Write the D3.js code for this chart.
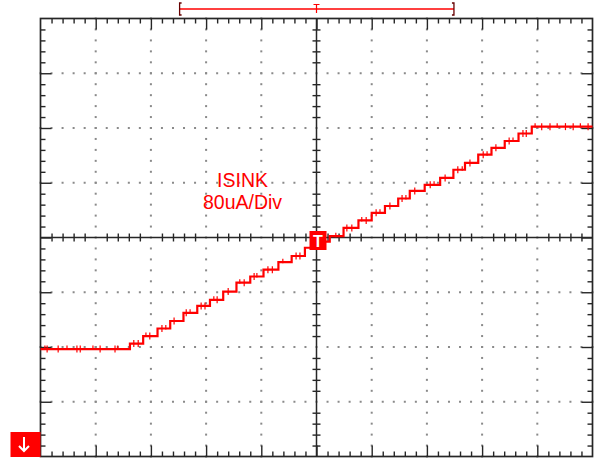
<!DOCTYPE html>
<html>
<head>
<meta charset="utf-8">
<script src="https://cdn.jsdelivr.net/npm/d3@7"></script>
<style>
  html, body { margin: 0; padding: 0; background: #fff; }
  svg { display: block; }
</style>
</head>
<body>
<svg id="scope" width="600" height="460"></svg>
<script>
// Staircase sink current captured on a 10 x 8 division graticule.
// Time is expressed in horizontal divisions, current in uA (80 uA/div).
const stepTimes = [1.62, 1.86, 2.12, 2.35, 2.59, 2.84, 3.07, 3.31, 3.55, 3.80,
                   4.04, 4.31, 4.55, 4.79, 5.03, 5.24, 5.49, 5.76, 6.00, 6.24,
                   6.48, 6.69, 6.96, 7.24, 7.48, 7.69, 7.93, 8.17, 8.41, 8.66, 8.90];
const stepLevels = [-163, -155, -144, -133, -122, -110, -100, -91, -79, -66,
                    -57, -47, -36, -27, -15, -6, 2, 14, 25, 36,
                    46, 57, 68, 77, 87, 99, 109, 121, 131, 141,
                    152, 162];
// Short glitches riding on the trace (time in divisions)
const glitchTimes = [0.08, 0.12, 0.32, 0.48, 0.66, 0.72, 0.95, 1.08, 1.35, 1.40,
                     1.69, 1.77, 1.91, 1.98, 2.20, 2.27, 2.42, 2.64, 2.71, 2.91,
                     2.98, 3.14, 3.20, 3.40, 3.61, 3.69, 3.87, 3.92, 4.12, 4.20,
                     4.39, 4.63, 4.70, 5.35, 5.55, 5.64, 5.82, 5.90, 6.08, 6.15,
                     6.33, 6.55, 6.62, 6.78, 7.06, 7.13, 7.33, 7.56, 7.64, 7.78,
                     8.02, 8.09, 8.25, 8.49, 8.56, 8.74, 8.80, 8.96, 9.08, 9.23,
                     9.36, 9.51, 9.65, 9.78, 9.92];
const channelLabel = ["ISINK", "80uA/Div"];
const xDivs = 10, yDivs = 8, uAPerDiv = 80, minorPerDiv = 5;

const svg = d3.select("#scope");
const gLeft = 40.5, gRight = 592.5, gTop = 18.5, gBottom = 456.5;
const x = d3.scaleLinear().domain([0, xDivs]).range([gLeft, gRight]);
const y = d3.scaleLinear().domain([-yDivs / 2 * uAPerDiv, yDivs / 2 * uAPerDiv]).range([gBottom, gTop]);

const ink = "#262626", dotColor = "#8a8a8a", red = "#ff0000";

// Dotted graticule on the major lines
const minorX = d3.range(0, xDivs * minorPerDiv + 1).map(i => i / minorPerDiv);
const minorY = d3.range(0, yDivs * minorPerDiv + 1).map(i => (i / minorPerDiv - yDivs / 2) * uAPerDiv);
const majorX = d3.range(1, xDivs).filter(v => v !== xDivs / 2);
const majorY = d3.range(1, yDivs).map(i => (i - yDivs / 2) * uAPerDiv).filter(v => v !== 0);

const dots = svg.append("g");
majorX.forEach(mx => {
  minorY.forEach(v => {
    dots.append("rect").attr("x", x(mx) - 1).attr("y", y(v) - 1).attr("width", 2).attr("height", 2).attr("fill", dotColor);
  });
});
majorY.forEach(my => {
  minorX.forEach(t => {
    dots.append("rect").attr("x", x(t) - 1).attr("y", y(my) - 1).attr("width", 2).attr("height", 2).attr("fill", dotColor);
  });
});

// Frame tick marks via d3 axes (ticks pointing inward)
function frameTicks(axisGen, transform, values, size) {
  const g = svg.append("g").attr("transform", transform)
    .call(axisGen.tickValues(values).tickSize(size).tickFormat(""));
  g.select(".domain").remove();
  g.selectAll("line").attr("stroke", ink).attr("stroke-width", 1.4);
}
const minorXOnly = minorX.filter(v => Math.abs(v - Math.round(v)) > 1e-6);
const minorYOnly = minorY.filter(v => Math.abs(v / uAPerDiv - Math.round(v / uAPerDiv)) > 1e-6);
const majXAll = d3.range(1, xDivs);
const majYAll = d3.range(1, yDivs).map(i => (i - yDivs / 2) * uAPerDiv);

frameTicks(d3.axisBottom(x), `translate(0,${gTop})`, minorXOnly, 5);
frameTicks(d3.axisBottom(x), `translate(0,${gTop})`, majXAll, 11);
frameTicks(d3.axisTop(x), `translate(0,${gBottom})`, minorXOnly, 5);
frameTicks(d3.axisTop(x), `translate(0,${gBottom})`, majXAll, 11);
frameTicks(d3.axisRight(y), `translate(${gLeft},0)`, minorYOnly, 5);
frameTicks(d3.axisRight(y), `translate(${gLeft},0)`, majYAll, 11);
frameTicks(d3.axisLeft(y), `translate(${gRight},0)`, minorYOnly, 5);
frameTicks(d3.axisLeft(y), `translate(${gRight},0)`, majYAll, 11);

// Centre axes with crossing tick marks
const cx = x(xDivs / 2), cy = y(0);
svg.append("line").attr("x1", gLeft).attr("x2", gRight).attr("y1", cy).attr("y2", cy).attr("stroke", ink).attr("stroke-width", 1.5);
svg.append("line").attr("x1", cx).attr("x2", cx).attr("y1", gTop).attr("y2", gBottom).attr("stroke", ink).attr("stroke-width", 1.5);
const cAxisX = svg.append("g").attr("transform", `translate(0,${cy - 4})`)
  .call(d3.axisBottom(x).tickValues(minorXOnly).tickSize(8).tickFormat(""));
cAxisX.select(".domain").remove();
cAxisX.selectAll("line").attr("stroke", ink).attr("stroke-width", 1.4);
const cAxisY = svg.append("g").attr("transform", `translate(${cx - 4},0)`)
  .call(d3.axisRight(y).tickValues(minorYOnly).tickSize(8).tickFormat(""));
cAxisY.select(".domain").remove();
cAxisY.selectAll("line").attr("stroke", ink).attr("stroke-width", 1.4);

// Outer frame
svg.append("rect").attr("x", gLeft).attr("y", gTop).attr("width", gRight - gLeft).attr("height", gBottom - gTop)
  .attr("fill", "none").attr("stroke", ink).attr("stroke-width", 1.7);

// Staircase trace
const pts = [[0, stepLevels[0]]];
stepTimes.forEach((t, i) => pts.push([t, stepLevels[i + 1]]));
pts.push([xDivs, stepLevels[stepLevels.length - 1]]);
const line = d3.line().x(d => x(d[0])).y(d => y(d[1])).curve(d3.curveStepAfter);
svg.append("path").datum(pts).attr("d", line).attr("fill", "none").attr("stroke", red).attr("stroke-width", 2.2);

function levelAt(t) {
  const i = d3.bisectRight(stepTimes, t);
  return stepLevels[i];
}
svg.append("g").selectAll("line").data(glitchTimes).join("line")
  .attr("x1", d => x(d)).attr("x2", d => x(d))
  .attr("y1", d => y(levelAt(d)) - 3.5).attr("y2", (d, i) => y(levelAt(d)) + (i % 3 === 0 ? 1 : 3.5))
  .attr("stroke", red).attr("stroke-width", 1.2);

// Channel label
svg.append("g").selectAll("text").data(channelLabel).join("text")
  .attr("x", x(3.66)).attr("y", (d, i) => 187 + i * 21.5)
  .attr("text-anchor", "middle").attr("font-family", "Liberation Sans, Arial, sans-serif")
  .attr("font-size", 19.5).attr("fill", red).text(d => d);

// Trigger point marker at the centre
svg.append("rect").attr("x", cx - 7).attr("y", cy - 6.5).attr("width", 17).attr("height", 19).attr("fill", red);
svg.append("text").attr("x", cx + 1.5).attr("y", cy + 9).attr("text-anchor", "middle")
  .attr("font-family", "Liberation Sans, Arial, sans-serif").attr("font-weight", "bold")
  .attr("font-size", 16).attr("fill", "#fff").text("T");

// Record window bracket above the graticule
const bx0 = x(2.52), bx1 = x(7.49), by = 9;
svg.append("line").attr("x1", bx0).attr("x2", bx1).attr("y1", by).attr("y2", by).attr("stroke", red).attr("stroke-width", 1.3);
svg.append("path").attr("d", `M${bx0 + 2},3 H${bx0} V15 H${bx0 + 2}`).attr("fill", "none").attr("stroke", "#600").attr("stroke-width", 1.3);
svg.append("path").attr("d", `M${bx1 - 2},3 H${bx1} V15 H${bx1 - 2}`).attr("fill", "none").attr("stroke", "#600").attr("stroke-width", 1.3);
svg.append("path").attr("d", `M${cx - 3},4.5 H${cx + 3} M${cx},4.5 V13`).attr("fill", "none").attr("stroke", red).attr("stroke-width", 1.2);

// Channel ground reference marker
svg.append("rect").attr("x", 10.5).attr("y", 432).attr("width", gLeft - 10.5).attr("height", 25).attr("fill", red);
svg.append("path").attr("d", "M24,437 V451 M19,446 L24,451 L29,446")
  .attr("fill", "none").attr("stroke", "#fff").attr("stroke-width", 2);
</script>
</body>
</html>
